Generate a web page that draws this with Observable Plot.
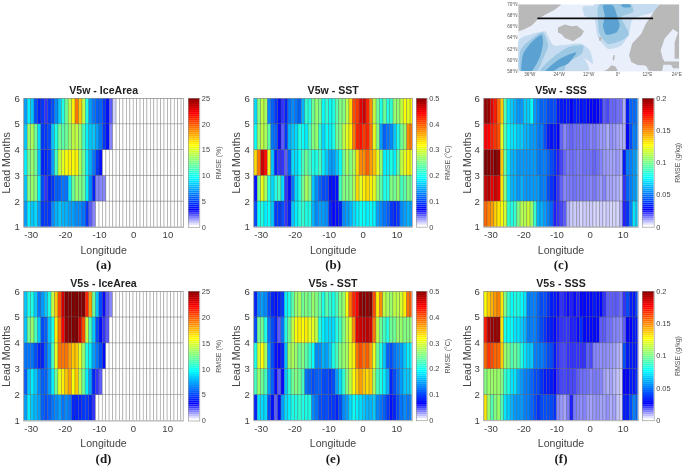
<!DOCTYPE html>
<html><head><meta charset="utf-8">
<script src="https://cdn.jsdelivr.net/npm/d3@7"></script>
<script src="https://cdn.jsdelivr.net/npm/@observablehq/plot@0.6"></script>
<style>
html,body{margin:0;padding:0;background:#fff;width:685px;height:466px;overflow:hidden}
#page{position:relative;width:685px;height:466px;font-family:"Liberation Sans",Helvetica,Arial,sans-serif}
#page svg{position:absolute;background:transparent;display:block;overflow:visible;filter:blur(0.3px)}
</style></head><body><div id="page"></div>
<script>
// RMSE per longitude column (-32 .. 14 deg) for each lead band (1-2 ... 5-6)
const iceW1=[7,9,8,8.5,7,4.5,4.5,4.5,6.5,7.5,8,7.5,7.5,7,7,6.5,6.5,6,4.5,2,1.5,0,0,0,0,0,0,0,0,0,0,0,0,0,0,0,0,0,0,0,0,0,0,0,0,0,0];
const iceW2=[8,12.5,13,12.5,9,5,2.5,4,4.5,5.5,5.5,6,6,9,12,13,12.5,12,9,6.5,4,1.5,1.5,1.5,0,0,0,0,0,0,0,0,0,0,0,0,0,0,0,0,0,0,0,0,0,0,0];
const iceW3=[9,12,13,12,8,4,4,4.5,7,11,14,15,15.5,16,15.5,16,13.5,12,9,7.5,6,4.5,3.5,0,0,0,0,0,0,0,0,0,0,0,0,0,0,0,0,0,0,0,0,0,0,0,0];
const iceW4=[8,13,13.5,12,8.5,4.5,4.5,5,8,10,12,11.5,12,13,14,14,13,11,9,8,8,7,6,4.5,3.5,1.5,0,0,0,0,0,0,0,0,0,0,0,0,0,0,0,0,0,0,0,0,0];
const iceW5=[7,9,8,5,4,4.5,2.5,4.5,5,6.5,8,10,12,14,16,19,17,14,10,7,6,5.5,5.5,4.5,3.5,2,0.5,0,0,0,0,0,0,0,0,0,0,0,0,0,0,0,0,0,0,0,0];
const sstW1=[.1,.19,.2,.18,.19,.16,.09,.09,.1,.05,.08,.16,.18,.2,.21,.2,.2,.15,.13,.14,.14,.13,.08,.06,.07,.08,.13,.14,.15,.17,.18,.19,.19,.18,.19,.18,.14,.13,.12,.11,.09,.08,.09,.13,.14,.15,.14];
const sstW2=[.07,.25,.3,.27,.2,.17,.2,.22,.17,.05,.06,.12,.17,.2,.24,.27,.25,.16,.13,.11,.1,.1,.07,.07,.07,.22,.25,.25,.25,.27,.33,.3,.32,.33,.32,.3,.26,.23,.2,.2,.25,.24,.26,.22,.23,.25,.24];
const sstW3=[.33,.38,.46,.43,.3,.16,.08,.05,.05,.04,.11,.17,.17,.19,.22,.24,.22,.2,.2,.22,.18,.16,.14,.14,.16,.19,.24,.27,.25,.27,.33,.37,.37,.39,.36,.34,.3,.26,.18,.18,.2,.18,.23,.28,.3,.32,.3];
const sstW4=[.19,.26,.28,.27,.23,.12,.11,.06,.04,.09,.15,.16,.17,.2,.19,.18,.22,.25,.26,.21,.17,.19,.18,.2,.24,.25,.28,.3,.32,.38,.42,.43,.41,.42,.38,.3,.25,.14,.11,.12,.13,.16,.2,.24,.26,.37,.38];
const sstW5=[.17,.25,.28,.27,.13,.11,.09,.07,.05,.08,.12,.13,.12,.11,.15,.21,.2,.24,.26,.24,.19,.21,.19,.2,.23,.25,.25,.28,.33,.4,.41,.45,.46,.42,.37,.28,.24,.2,.24,.2,.21,.26,.26,.28,.31,.3,.32];
const sssW1=[.155,.15,.145,.135,.13,.125,.115,.085,.08,.085,.1,.11,.11,.115,.105,.085,.06,.06,.055,.05,.045,.022,.02,.018,.016,.008,.005,.005,.006,.004,.005,.005,.005,.004,.004,.005,.004,.005,.004,.004,.004,.008,.022,.035,.05,.07,.065];
const sssW2=[.185,.19,.18,.185,.18,.13,.1,.07,.06,.06,.055,.06,.055,.055,.055,.055,.055,.05,.05,.04,.035,.03,.02,.015,.012,.013,.013,.014,.013,.013,.013,.013,.012,.013,.012,.01,.012,.009,.009,.008,.008,.006,.02,.045,.05,.055,.06];
const sssW3=[.2,.2,.195,.2,.195,.135,.095,.07,.06,.06,.055,.055,.055,.055,.055,.055,.05,.05,.05,.045,.04,.035,.022,.018,.015,.013,.014,.014,.013,.013,.014,.014,.014,.015,.014,.012,.01,.01,.009,.009,.01,.008,.03,.05,.05,.055,.06];
const sssW4=[.175,.175,.17,.165,.16,.12,.09,.075,.07,.07,.065,.065,.06,.06,.055,.055,.05,.05,.04,.03,.028,.03,.025,.015,.012,.014,.015,.014,.014,.013,.014,.014,.012,.013,.012,.01,.01,.008,.011,.01,.009,.008,.008,.025,.04,.05,.05];
const sssW5=[.195,.195,.18,.17,.155,.135,.09,.07,.065,.06,.055,.055,.065,.065,.075,.055,.05,.045,.045,.04,.04,.04,.03,.03,.028,.03,.025,.03,.03,.028,.03,.025,.025,.025,.025,.022,.016,.018,.015,.015,.014,.014,.008,.03,.045,.045,.05];
const iceS1=[7,9,8,7.5,7,5.5,5,5.5,6,6.5,7,6,6.5,6,4,4,4,4.5,4.5,4,2.5,0,0,0,0,0,0,0,0,0,0,0,0,0,0,0,0,0,0,0,0,0,0,0,0,0,0];
const iceS2=[5.5,8,9,8,6.5,5.5,5.5,7,9,12,15,16,17,18,15.5,17,14,12,9,7,4,2.5,2,0,0,0,0,0,0,0,0,0,0,0,0,0,0,0,0,0,0,0,0,0,0,0,0];
const iceS3=[6,6,6,5,4,4,5.5,7,11,15,19,19,19,18,17,17,15,13,10,9,7,6,5,3.5,0,0,0,0,0,0,0,0,0,0,0,0,0,0,0,0,0,0,0,0,0,0,0];
const iceS4=[8,12,13,11,8,5,5.5,8,10,16,19,22,24.5,25,25,25,23,20,14,11,8,5,3.5,2.5,2,0,0,0,0,0,0,0,0,0,0,0,0,0,0,0,0,0,0,0,0,0,0];
const iceS5=[8,10,10,8,6,7,8,10,14,17,20,23,25,25,25,25,25,25,21,18,12,8,5,3,2,1.5,0,0,0,0,0,0,0,0,0,0,0,0,0,0,0,0,0,0,0,0,0];
const sstS1=[.08,.17,.17,.17,.1,.07,.04,.07,.14,.17,.18,.2,.2,.21,.2,.2,.2,.13,.12,.1,.1,.1,.09,.09,.08,.1,.13,.14,.17,.19,.18,.17,.16,.15,.15,.16,.13,.12,.11,.09,.07,.08,.1,.12,.13,.12,.13];
const sstS2=[.22,.26,.24,.22,.14,.11,.06,.04,.06,.16,.21,.24,.25,.24,.22,.12,.11,.1,.11,.11,.1,.1,.09,.1,.14,.17,.21,.25,.28,.31,.34,.36,.34,.33,.34,.27,.22,.2,.18,.15,.08,.1,.12,.14,.16,.16,.17];
const sstS3=[.2,.29,.31,.27,.14,.1,.07,.06,.08,.16,.26,.27,.26,.24,.25,.23,.21,.19,.13,.13,.15,.14,.16,.2,.22,.25,.26,.27,.3,.32,.38,.4,.38,.39,.36,.3,.24,.2,.16,.11,.1,.12,.13,.14,.16,.18,.18];
const sstS4=[.1,.24,.24,.2,.12,.1,.08,.04,.12,.2,.24,.28,.31,.32,.31,.32,.3,.3,.28,.2,.18,.17,.17,.17,.2,.22,.25,.28,.3,.37,.45,.46,.47,.47,.46,.38,.28,.24,.22,.2,.24,.24,.26,.26,.25,.25,.26];
const sstS5=[.08,.13,.14,.13,.1,.08,.07,.08,.09,.18,.2,.23,.26,.27,.24,.25,.24,.26,.25,.23,.2,.23,.21,.2,.22,.25,.26,.31,.38,.42,.44,.49,.5,.49,.5,.4,.32,.37,.28,.27,.26,.28,.28,.29,.32,.38,.39];
const sssS1=[.13,.105,.09,.1,.105,.09,.07,.065,.06,.055,.055,.055,.05,.05,.045,.04,.035,.04,.04,.04,.04,.035,.012,.01,.009,.013,.022,.013,.012,.011,.012,.01,.009,.01,.011,.009,.009,.011,.008,.009,.006,.004,.03,.03,.04,.05,.045];
const sssS2=[.1,.105,.105,.105,.105,.1,.085,.08,.07,.07,.06,.055,.05,.05,.045,.04,.04,.035,.03,.03,.03,.025,.02,.018,.018,.019,.018,.018,.016,.014,.014,.014,.012,.013,.013,.012,.009,.008,.009,.007,.006,.004,.025,.025,.03,.03,.035];
const sssS3=[.155,.165,.16,.155,.155,.135,.105,.1,.09,.095,.09,.08,.07,.065,.065,.05,.05,.05,.045,.04,.04,.03,.02,.018,.018,.02,.02,.02,.02,.02,.02,.016,.018,.012,.012,.011,.011,.011,.01,.009,.008,.006,.04,.03,.03,.03,.03];
const sssS4=[.17,.19,.195,.195,.195,.13,.08,.075,.075,.07,.07,.065,.06,.05,.05,.05,.045,.04,.035,.03,.03,.026,.022,.02,.02,.02,.022,.022,.024,.034,.026,.026,.026,.026,.026,.016,.016,.014,.014,.012,.012,.011,.016,.025,.025,.03,.03];
const sssS5=[.125,.135,.14,.145,.15,.13,.1,.085,.075,.08,.08,.075,.07,.05,.05,.05,.045,.04,.04,.035,.03,.03,.024,.02,.022,.024,.022,.024,.022,.026,.026,.026,.026,.03,.026,.026,.02,.016,.016,.016,.016,.014,.02,.04,.03,.03,.04];

const leadTicks=[1,2,3,4,5,6];
const lonTicks=[-30,-20,-10,0,10];
const iceTicks=[0,5,10,15,20,25];
const sstTicks=[0,.1,.2,.3,.4,.5];
const sssTicks=[0,.05,.1,.15,.2];
const jetStops=[0,.125,.375,.625,.875,1];
const jetColors=["#ffffff","#0000ff","#00ffff","#ffff00","#ff0000","#800000"];

// Map contours (lon, lat)
const greenland=[[-40.6,70],[-23.1,70],[-25.8,69.05],[-29.2,68.3],[-32.6,67.4],[-35.3,66.2],[-38,65.6],[-40.4,65.2],[-40.6,65.2]];
const iceland=[[-24.5,65.9],[-21.7,66.4],[-19,66.1],[-16.7,66.2],[-13.9,65.2],[-14.9,64.4],[-18.3,63.4],[-21.7,64],[-23.1,64.7],[-24.5,65]];
const scandinavia=[[17,70],[25.1,70],[25.1,59.2],[18.5,59.2],[18,58],[12.8,58],[11.5,59],[10.5,59.1],[8.2,59.1],[5.4,59.7],[4.5,60.9],[5.8,63],[9.5,64.75],[11.3,66.5],[13.6,68],[14.9,68.9]];
const estonia=[[21.5,59.3],[25.1,59.3],[25.1,58.6],[22.5,58.6]];
const faroe=[[-7.7,64.2],[-6.6,64.2],[-6.9,63.5],[-7.7,63.5]];
const shetland=[[-1.9,60.9],[-1.2,60.9],[-1.6,60],[-2.2,60]];
const scotland=[[-6,58],[-4,58.5],[-2.7,59.1],[-1,58.9],[0,58]];
const baltic=[[22.4,65.6],[24.5,65],[23.1,63.25],[23.1,60.3],[25.1,60.3],[25.1,59.8],[19,59.8],[18.3,60.3],[17.4,61.8],[19,63.85]];
const level1=[
 [[-40.6,63.5],[-36,64.6],[-29.9,65.2],[-28.5,64.3],[-25.8,62.65],[-15.6,63],[-11.5,61.75],[-10.2,59.4],[-13.6,60.3],[-12.9,58],[-40.6,58]],
 [[-9.5,70],[17,70],[14.3,68.6],[6.1,67.4],[4.5,64.75],[1.4,62.65],[-4.1,62.05],[-8.2,64.15],[-9.1,66.5]],
 [[-14.3,69.6],[-9.5,69.6],[-9.5,67.4],[-13.6,68]]
];
const level2=[
 [[-39.8,58],[-39.8,61.75],[-35.3,63.85],[-30.6,65],[-28.5,62.65],[-30.6,60.25],[-33.3,58]],
 [[-31.9,58],[-26.5,60.55],[-20.4,62.35],[-14.3,62.65],[-14.9,61.15],[-21.1,59.4],[-22.4,58]],
 [[-7.5,70],[4.8,70],[6.1,68.6],[1.4,67.7],[4.5,64.75],[1.4,63.55],[-4.1,62.9],[-7.5,64.75],[-8.2,67.1]]
];
const level3=[
 [[-39.4,58],[-38.7,61.15],[-35.3,63.25],[-31.25,64.6],[-30.6,63],[-31.9,60.55],[-35.3,58]],
 [[-29.9,58],[-23.8,60.25],[-17,61.45],[-20.4,59.4],[-23.8,58.8],[-26.5,58]],
 [[-6.1,69.8],[-2,69.8],[0,67.4],[.7,66.2],[-.7,65],[-4.8,64.6],[-6.1,66.2],[-5.4,68]],
 [[1.4,70],[5,70],[5,69.5],[2,69.5]]
];
const section=[{lon:-32.6,lat:67.5},{lon:14,lat:67.5}];
const mapLatTicks=[58,60,62,64,66,68,70];
const mapLonTicks=[-36,-24,-12,0,12,24];

const page=document.getElementById("page");
const FONT='"Liberation Sans",Helvetica,Arial,sans-serif';

function colorScale(max){
  return {type:"linear",domain:jetStops.map(s=>s*max),range:jetColors,interpolate:"rgb",clamp:true};
}
function place(svg,left,top){svg.style.left=left+"px";svg.style.top=top+"px";page.appendChild(svg);}

function heatmap(p){
  const cells=p.rows.flatMap((row,r)=>row.map((v,i)=>({x1:-32+i,x2:-31+i,y1:r+1,y2:r+2,v})));
  const mL=p.left-p.svgLeft,mT=24,mB=50,W=p.right-p.left,H=p.bottom-p.top;
  const svg=Plot.plot({
    width:mL+W+2,height:mT+H+mB,marginLeft:mL,marginRight:2,marginTop:mT,marginBottom:mB,
    style:{fontFamily:FONT,background:"transparent"},
    x:{domain:[-32.15,14.55],label:null},
    y:{domain:[1,6],label:null},
    color:colorScale(p.max),
    marks:[
      Plot.rect(cells,{x1:"x1",x2:"x2",y1:"y1",y2:"y2",fill:"v",stroke:"#4a4a4a",strokeOpacity:0.42,strokeWidth:0.7,clip:true}),
      Plot.frame({stroke:"#8f8f8f",strokeWidth:0.7}),
      Plot.axisX({ticks:lonTicks,tickSize:0,tickPadding:4,fontSize:9.6,color:"#3c3c3c",label:null,tickFormat:d=>String(d)}),
      Plot.axisY({ticks:leadTicks,tickSize:0,tickPadding:4,fontSize:9.6,color:"#3c3c3c",label:null,tickFormat:d=>String(d)}),
      Plot.text([p.title],{frameAnchor:"top",lineAnchor:"middle",dy:-8,fontSize:10.6,fontWeight:"bold",fill:"#222"}),
      Plot.text(["Longitude"],{frameAnchor:"bottom",lineAnchor:"middle",dy:23,fontSize:10.6,fill:"#444"}),
      Plot.text([p.letter],{frameAnchor:"bottom",lineAnchor:"middle",dy:38,fontSize:13,fontWeight:"bold",fontFamily:'"Liberation Serif",serif',fill:"#1a1a1a"}),
      Plot.text(["Lead Months"],{frameAnchor:"left",textAnchor:"middle",lineAnchor:"middle",rotate:-90,dx:-(p.left-p.labelX),fontSize:10.6,fill:"#444"})
    ]
  });
  place(svg,p.svgLeft,p.top-mT);
  // colour bar
  const steps=d3.range(64);
  const st=p.max/64;
  const barW=p.barRight-p.barLeft;
  const bar=Plot.plot({
    width:barW+34,height:H+8,marginLeft:0,marginRight:34,marginTop:4,marginBottom:4,
    style:{fontFamily:FONT,background:"transparent"},
    x:{domain:[0,1],axis:null},
    y:{domain:[0,p.max],label:null},
    color:colorScale(p.max),
    marks:[
      Plot.rect(steps,{x1:0,x2:1,y1:d=>d*st,y2:d=>(d+1)*st,fill:d=>d*st}),
      Plot.frame({stroke:"#8f8f8f",strokeWidth:0.6}),
      Plot.axisY({anchor:"right",ticks:p.ticks,tickSize:0,tickPadding:2,fontSize:7.4,color:"#444",label:null,tickFormat:d=>String(d)}),
      Plot.text([p.unit],{frameAnchor:"right",textAnchor:"middle",lineAnchor:"middle",rotate:-90,dx:p.unitDx,fontSize:7,fill:"#555"})
    ]
  });
  place(bar,p.barLeft,p.top-4);
}

const panels=[
 {title:"V5w - IceArea",letter:"(a)",rows:[iceW1,iceW2,iceW3,iceW4,iceW5],max:25,ticks:iceTicks,unit:"RMSE (%)",unitDx:19,left:23.3,right:183,top:97.5,bottom:226.3,barLeft:187.7,barRight:199,svgLeft:0,labelX:6},
 {title:"V5w - SST",letter:"(b)",rows:[sstW1,sstW2,sstW3,sstW4,sstW5],max:.5,ticks:sstTicks,unit:"RMSE (°C)",unitDx:21,left:253.3,right:412,top:98,bottom:226.7,barLeft:416,barRight:426.7,svgLeft:230,labelX:236},
 {title:"V5w - SSS",letter:"(c)",rows:[sssW1,sssW2,sssW3,sssW4,sssW5],max:.2,ticks:sssTicks,unit:"RMSE (g/kg)",unitDx:24,left:483.3,right:637.7,top:98,bottom:226.7,barLeft:642.3,barRight:654,svgLeft:460,labelX:467},
 {title:"V5s - IceArea",letter:"(d)",rows:[iceS1,iceS2,iceS3,iceS4,iceS5],max:25,ticks:iceTicks,unit:"RMSE (%)",unitDx:19,left:23.3,right:182.7,top:290.8,bottom:420.3,barLeft:187.7,barRight:199,svgLeft:0,labelX:6},
 {title:"V5s - SST",letter:"(e)",rows:[sstS1,sstS2,sstS3,sstS4,sstS5],max:.5,ticks:sstTicks,unit:"RMSE (°C)",unitDx:21,left:253.3,right:411.7,top:291,bottom:420.3,barLeft:416,barRight:426.7,svgLeft:230,labelX:236},
 {title:"V5s - SSS",letter:"(f)",rows:[sssS1,sssS2,sssS3,sssS4,sssS5],max:.2,ticks:sssTicks,unit:"RMSE (g/kg)",unitDx:24,left:483.3,right:637.7,top:291,bottom:420.3,barLeft:642.3,barRight:654,svgLeft:460,labelX:467}
];
for(const p of panels) heatmap(p);

// Map
const flat=(polys,prefix)=>polys.flatMap((poly,k)=>poly.map(([lon,lat])=>({lon,lat,id:prefix+k})));
const smooth={x:"lon",y:"lat",z:"id",curve:"cardinal-closed",tension:0.35,stroke:"none"};
const sharp={x:"lon",y:"lat",z:"id",curve:"linear-closed",stroke:"none"};
const mapSvg=Plot.plot({
  width:177,height:79,marginLeft:16,marginRight:0,marginTop:4,marginBottom:8,
  style:{fontFamily:FONT,background:"transparent"},
  x:{domain:[-40.6,25.1],label:null},
  y:{domain:[58,70],label:null},
  marks:[
    Plot.frame({fill:"#e9effb",stroke:"none"}),
    Plot.line(flat(level1,"a"),{...smooth,fill:"#c5dcf0",clip:true}),
    Plot.line(flat(level2,"b"),{...smooth,fill:"#9cc8e3",clip:true}),
    Plot.line(flat(level3,"c"),{...smooth,fill:"#5ba2d2",clip:true}),
    Plot.line(flat([greenland,iceland,scandinavia,estonia,faroe,shetland,scotland],"g"),{...sharp,fill:"#b9b9b9",clip:true}),
    Plot.line(flat([baltic],"s"),{...sharp,fill:"#e9effb",clip:true}),
    Plot.line(section,{x:"lon",y:"lat",stroke:"#0a0a0a",strokeWidth:1.8}),
    Plot.axisY({ticks:mapLatTicks,tickSize:0,tickPadding:1,fontSize:4.6,color:"#555",label:null,tickFormat:d=>d+"°N"}),
    Plot.axisX({ticks:mapLonTicks,tickSize:0,tickPadding:1,fontSize:4.6,color:"#555",label:null,tickFormat:d=>d<0?(-d)+"°W":d>0?d+"°E":"0°"})
  ]
});
place(mapSvg,502,0);
</script></body></html>
